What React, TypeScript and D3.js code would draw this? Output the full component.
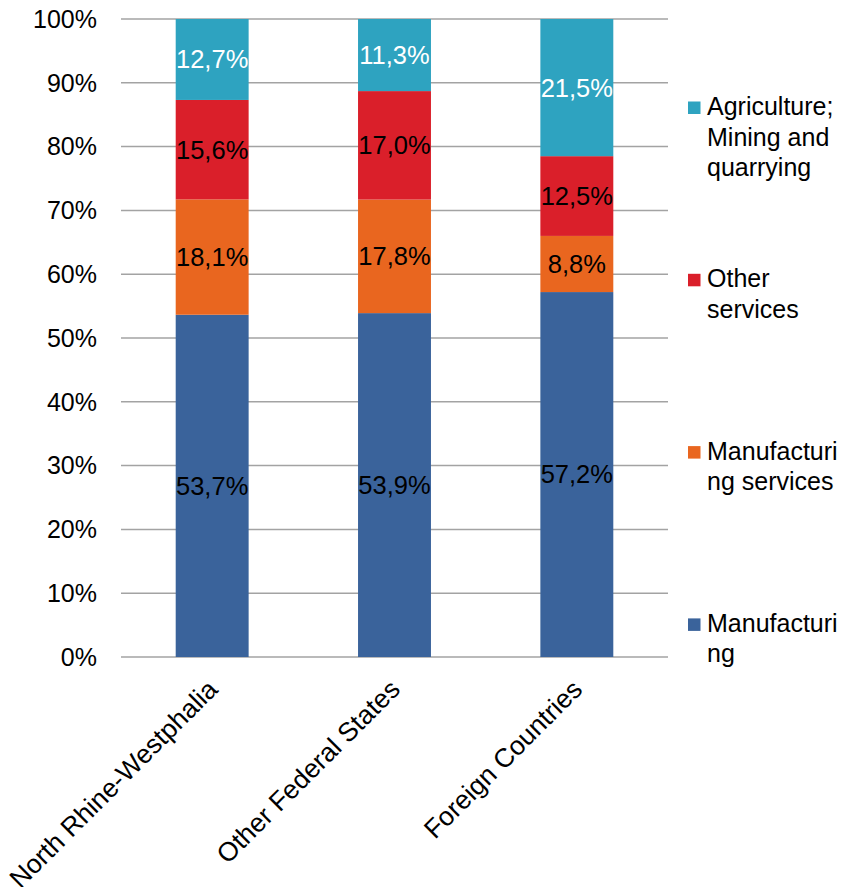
import React from "react";
import * as d3 from "d3";

const categories = ["North Rhine-Westphalia", "Other Federal States", "Foreign Countries"];
const seriesNames = ["Manufacturing", "Manufacturing services", "Other services", "Agriculture; Mining and quarrying"];
const manufacturing = [53.7, 53.9, 57.2];
const manufacturingServices = [18.1, 17.8, 8.8];
const otherServices = [15.6, 17.0, 12.5];
const agriculture = [12.7, 11.3, 21.5];
const seriesColors = ["#3a639b", "#e9661f", "#da1f2a", "#2ea3c0"];
const labelColors = ["#000", "#000", "#000", "#fff"];
const yTicks = [0, 0.1, 0.2, 0.3, 0.4, 0.5, 0.6, 0.7, 0.8, 0.9, 1.0];
// legend entries, top to bottom, with their wrapped lines
const legendLines = [
  ["Agriculture;", "Mining and", "quarrying"],
  ["Other", "services"],
  ["Manufacturi", "ng services"],
  ["Manufacturi", "ng"],
];
const legendSeriesIndex = [3, 2, 1, 0];

const W = 850;
const H = 887;
const FONT = "'Liberation Sans', Arial, sans-serif";

export default function App() {
  const x = d3.scaleBand<string>().domain(categories).range([121, 668]).paddingInner(0.6).paddingOuter(0.3);
  const y = d3.scaleLinear().domain([0, 1]).range([657, 19]);

  const rows = categories.map((c, i) => ({
    cat: c,
    s0: manufacturing[i],
    s1: manufacturingServices[i],
    s2: otherServices[i],
    s3: agriculture[i],
  }));
  const keys = ["s0", "s1", "s2", "s3"];
  const stacked = d3.stack<any>().keys(keys).offset(d3.stackOffsetExpand)(rows);
  const fmt = (v: number) => v.toFixed(1).replace(".", ",") + "%";

  return (
    <svg width={W} height={H} style={{ position: "absolute", left: 0, top: 0, background: "#fff" }} fontFamily={FONT}>
      {/* gridlines */}
      {yTicks.map((t) => (
        <line key={"g" + t} x1={121} x2={668} y1={y(t)} y2={y(t)} stroke="#a3a3a3" strokeWidth={1.5} />
      ))}
      {/* y tick labels */}
      {yTicks.map((t) => (
        <text key={"t" + t} x={97} y={y(t)} dy="0.35em" textAnchor="end" fontSize={25} fill="#000">
          {Math.round(t * 100) + "%"}
        </text>
      ))}
      {/* bars */}
      {stacked.map((layer, si) => (
        <g key={"s" + si} fill={seriesColors[si]}>
          {layer.map((d, ci) => (
            <rect key={ci} x={x(categories[ci])} width={x.bandwidth()} y={y(d[1])} height={y(d[0]) - y(d[1])} />
          ))}
        </g>
      ))}
      {/* data labels */}
      {stacked.map((layer, si) => (
        <g key={"l" + si}>
          {layer.map((d, ci) => (
            <text
              key={ci}
              x={(x(categories[ci]) as number) + x.bandwidth() / 2}
              y={(y(d[0]) + y(d[1])) / 2}
              dy="0.35em"
              textAnchor="middle"
              fontSize={25.5}
              fill={labelColors[si]}
            >
              {fmt((d.data as any)[keys[si]])}
            </text>
          ))}
        </g>
      ))}
      {/* x labels */}
      {categories.map((c) => {
        const cx = (x(c) as number) + x.bandwidth() / 2;
        return (
          <text key={c} transform={`translate(${cx + 7},${691}) rotate(-45)`} textAnchor="end" fontSize={26.5} fill="#000">
            {c}
          </text>
        );
      })}
      {/* legend */}
      {legendLines.map((lines, i) => {
        const base = 115 + i * 172.3;
        return (
          <g key={"lg" + i}>
            <rect x={688} y={base - 13.5} width={12.5} height={12.5} fill={seriesColors[legendSeriesIndex[i]]} />
            {lines.map((ln, j) => (
              <text key={j} x={707} y={base + j * 30.5} fontSize={25} fill="#000">
                {ln}
              </text>
            ))}
          </g>
        );
      })}
    </svg>
  );
}
